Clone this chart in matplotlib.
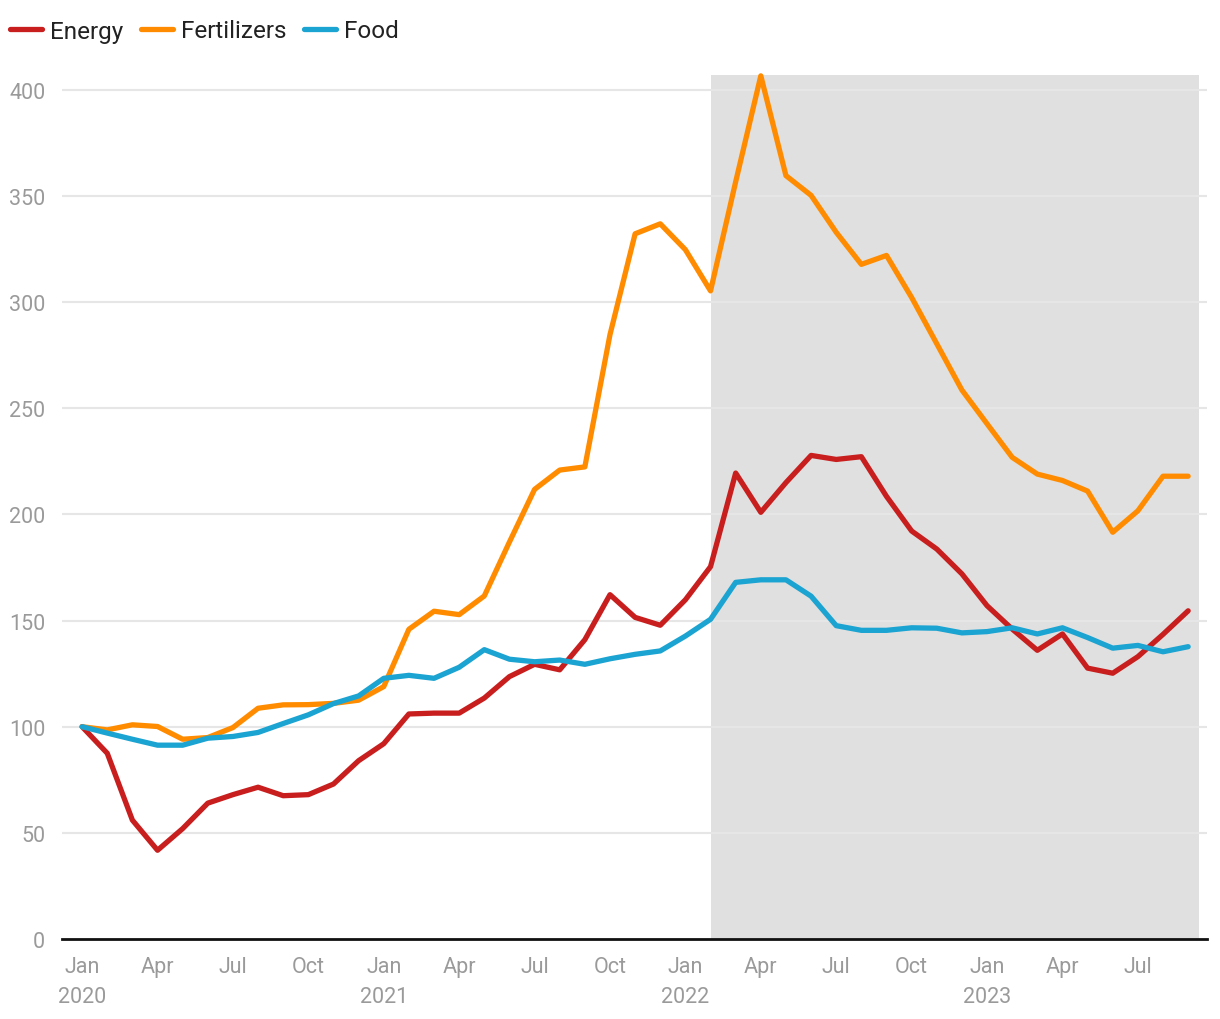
import matplotlib.pyplot as plt
import numpy as np

plt.rcParams['font.family'] = ['Roboto', 'DejaVu Sans']

# monthly index, Jan 2020 .. Sep 2023
months = np.arange(45)

energy = [100, 87.5, 56, 41.8, 52, 64, 68, 71.5, 67.5, 68, 73, 84,
          92, 106, 106.4, 106.4, 113.5, 123.6, 129.4, 126.8, 141, 162.2, 151.5, 147.8,
          159.8, 175.4, 219.5, 201, 215, 227.8, 225.9, 227.2, 208.5, 192.2, 183.7, 172,
          157, 146, 136, 143.7, 127.6, 125.2, 133, 143.5, 154.6]

fertilizers = [100, 98.5, 100.9, 100.1, 94.1, 94.9, 99.6, 108.7, 110.3, 110.4, 111, 112.5,
               118.9, 145.9, 154.4, 152.8, 161.6, 187, 211.8, 220.9, 222.4, 284.7, 332.2, 336.9,
               324.7, 305.3, 356.7, 406.6, 359.6, 350.3, 332.9, 317.8, 322, 302.2, 280.4, 258.6,
               242.7, 226.9, 219, 216, 211, 191.6, 201.7, 218, 218]

food = [100, 97, 94.1, 91.3, 91.3, 94.6, 95.4, 97.3, 101.5, 105.6, 110.9, 114.5,
        122.8, 124.2, 122.8, 128, 136.3, 131.8, 130.6, 131.4, 129.4, 132, 134.1, 135.7,
        142.7, 150.6, 168, 169.2, 169.2, 161.5, 147.6, 145.4, 145.4, 146.6, 146.4, 144.2,
        144.8, 146.6, 143.7, 146.6, 142, 137, 138.3, 135.3, 137.7]

tick_pos = np.arange(0, 45, 3)
tick_labels = ['Jan\n2020', 'Apr', 'Jul', 'Oct',
               'Jan\n2021', 'Apr', 'Jul', 'Oct',
               'Jan\n2022', 'Apr', 'Jul', 'Oct',
               'Jan\n2023', 'Apr', 'Jul']

fig = plt.figure(figsize=(12.2, 10.2), dpi=100)
ax = fig.add_axes([62 / 1220, 1 - 940 / 1020, (1207 - 62) / 1220, (940 - 76) / 1020])

ax.axvspan(25, 44.45, color='#e0e0e0', zorder=0, lw=0)

for y in range(50, 401, 50):
    ax.axhline(y, color='#e6e6e6', lw=1.5, zorder=1)

kw = dict(lw=3.8, solid_capstyle='round', solid_joinstyle='round', zorder=3, clip_on=False)
ax.plot(months, energy, color='#c81e1e', label='Energy', **kw)
ax.plot(months, fertilizers, color='#ff8c00', label='Fertilizers', **kw)
ax.plot(months, food, color='#1ba3d1', label='Food', **kw)

ax.set_xlim(-0.8, 44.75)
ax.set_ylim(0, 407)
ax.set_yticks(range(0, 401, 50))
ax.set_xticks(tick_pos)
ax.set_xticklabels(tick_labels, linespacing=1.6)
ax.tick_params(axis='both', length=0, labelsize=15.5, labelcolor='#9a9a9a')
ax.tick_params(axis='y', pad=12)
ax.tick_params(axis='x', pad=12)

for s in ['top', 'right', 'left']:
    ax.spines[s].set_visible(False)
ax.spines['bottom'].set_color('#111111')
ax.spines['bottom'].set_linewidth(2)
ax.spines['bottom'].set_zorder(4)

leg = fig.legend(loc='center left', bbox_to_anchor=(0.0082, 1 - 32 / 1020), ncol=3,
                 frameon=False, fontsize=17.5, handlelength=1.3, handletextpad=0.33,
                 columnspacing=0.75, borderpad=0, borderaxespad=0)
for t in leg.get_texts():
    t.set_color('#222222')
for h in leg.legend_handles:
    h.set_solid_capstyle('round')

fig.savefig('out.png', dpi=100)
